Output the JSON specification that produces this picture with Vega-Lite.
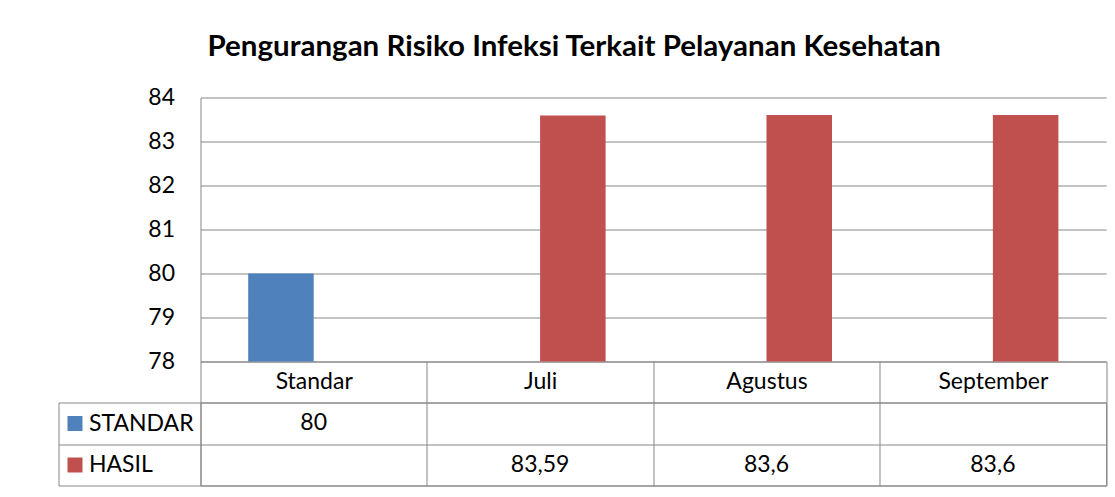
{
  "$schema": "https://vega.github.io/schema/vega-lite/v6.json",
  "background": "white",
  "padding": {"left": 57.5, "top": 31.5, "right": 9, "bottom": 11},
  "title": {
    "text": "Pengurangan Risiko Infeksi Terkait Pelayanan Kesehatan",
    "anchor": "middle",
    "frame": "bounds",
    "font": "Lato",
    "fontSize": 29.5,
    "fontWeight": "bold",
    "color": "black",
    "offset": 24,
    "dx": -8
  },
  "datasets": {
    "d": [
      {"kategori": "Standar", "seri": "STANDAR", "nilai": 80},
      {"kategori": "Juli", "seri": "HASIL", "nilai": 83.59},
      {"kategori": "Agustus", "seri": "HASIL", "nilai": 83.6},
      {"kategori": "September", "seri": "HASIL", "nilai": 83.6}
    ]
  },
  "spacing": 41,
  "bounds": "flush",
  "resolve": {"scale": {"x": "independent", "y": "independent", "color": "shared"}},
  "vconcat": [
    {
      "width": 905.6,
      "height": 264,
      "view": {"stroke": null},
      "data": {"name": "d"},
      "mark": {"type": "bar"},
      "encoding": {
        "x": {
          "field": "kategori",
          "type": "nominal",
          "sort": ["Standar", "Juli", "Agustus", "September"],
          "scale": {"paddingInner": 0, "paddingOuter": 0},
          "axis": {
            "title": null,
            "orient": "bottom",
            "labelAngle": 0,
            "tickBand": "extent",
            "tickSize": 41,
            "tickColor": "#878787",
            "domainColor": "#878787",
            "labelBaseline": "middle",
            "labelPadding": -20.5,
            "grid": false
          }
        },
        "xOffset": {
          "field": "seri",
          "type": "nominal",
          "sort": ["STANDAR", "HASIL"],
          "scale": {"domain": ["STANDAR", "HASIL"], "paddingInner": 0, "paddingOuter": 0.728}
        },
        "y": {
          "field": "nilai",
          "type": "quantitative",
          "scale": {"domain": [78, 84], "zero": false, "nice": false},
          "axis": {
            "title": null,
            "values": [78, 79, 80, 81, 82, 83, 84],
            "format": "d",
            "grid": true,
            "gridColor": "#878787",
            "ticks": false,
            "labelPadding": 26,
            "domainColor": "#878787"
          }
        },
        "y2": {"datum": 78},
        "color": {
          "field": "seri",
          "type": "nominal",
          "scale": {"domain": ["STANDAR", "HASIL"], "range": ["#4F81BD", "#C0504D"]},
          "legend": {
            "orient": "none",
            "legendX": -133,
            "legendY": 318.5,
            "title": null,
            "symbolType": "square",
            "symbolSize": 225,
            "symbolStrokeWidth": 0,
            "labelExpr": "''",
            "labelFontSize": 8,
            "rowPadding": 26.5,
            "padding": 0
          }
        }
      }
    },
    {
      "width": 905.6,
      "height": 83,
      "data": {"name": "d"},
      "mark": {"type": "text", "font": "Lato", "fontSize": 23, "color": "black", "baseline": "middle"},
      "encoding": {
        "x": {
          "field": "kategori",
          "type": "nominal",
          "sort": ["Standar", "Juli", "Agustus", "September"],
          "scale": {"domain": ["Standar", "Juli", "Agustus", "September"], "paddingInner": 0, "paddingOuter": 0},
          "axis": {"title": null, "labels": false, "ticks": false, "domain": false, "grid": true, "tickBand": "extent", "gridColor": "#878787"}
        },
        "y": {
          "field": "seri",
          "type": "nominal",
          "scale": {"domain": ["STANDAR", "HASIL"], "paddingInner": 0, "paddingOuter": 0},
          "axis": {
            "title": null,
            "orient": "left",
            "offset": 142,
            "tickSize": -142,
            "tickBand": "extent",
            "grid": true,
            "gridColor": "#878787",
            "tickColor": "#878787",
            "domainColor": "#878787",
            "labelAlign": "left",
            "labelPadding": 112
          }
        },
        "text": {"field": "nilai", "type": "quantitative", "format": "~g"}
      }
    }
  ],
  "config": {
    "font": "Lato",
    "view": {"stroke": "#878787"},
    "axis": {"labelFont": "Lato", "labelFontSize": 23, "labelColor": "black"},
    "locale": {"number": {"decimal": ",", "thousands": ".", "grouping": [3], "currency": ["", ""]}}
  }
}
